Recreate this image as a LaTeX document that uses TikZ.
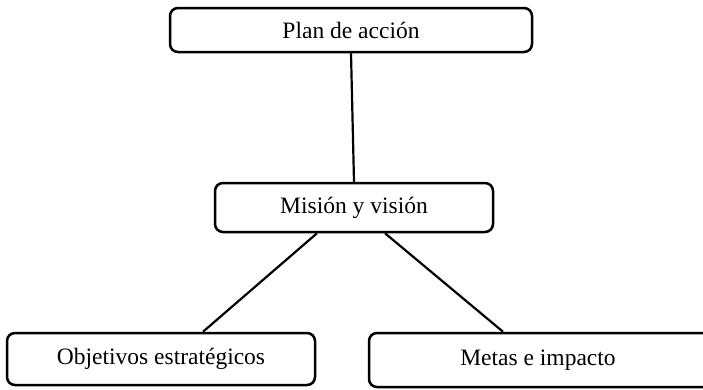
\documentclass[tikz,border=0pt]{standalone}
\usepackage{fontspec}
\setmainfont{Liberation Serif}
\begin{document}
\begin{tikzpicture}[x=1pt,y=-1pt,
  box/.style={draw=black, line width=2.5pt, rounded corners=8pt, fill=white,
    inner sep=0pt, font=\fontsize{23.5}{27}\selectfont},
  conn/.style={draw=black, line width=2.2pt}]
\useasboundingbox (0,0) rectangle (703,389);
\clip (0,0) rectangle (703,389);
\node[box, minimum width=362pt, minimum height=44pt] (b1) at (351,30) {Plan de acción};
\node[box, minimum width=278pt, minimum height=49pt] (b2) at (354,207.5) {Misión y visión};
\node[box, minimum width=308pt, minimum height=52pt] (b3) at (161,359) {Objetivos estratégicos};
\node[box, minimum width=343pt, minimum height=54pt] (b4) at (540.5,360) {\hspace*{-5pt}Metas e impacto};
\draw[conn] (b1.south) -- (b2.north);
\draw[conn] ([xshift=-37pt]b2.south) -- ([xshift=42pt]b3.north);
\draw[conn] ([xshift=31pt]b2.south) -- ([xshift=-37.5pt]b4.north);
\end{tikzpicture}
\end{document}
